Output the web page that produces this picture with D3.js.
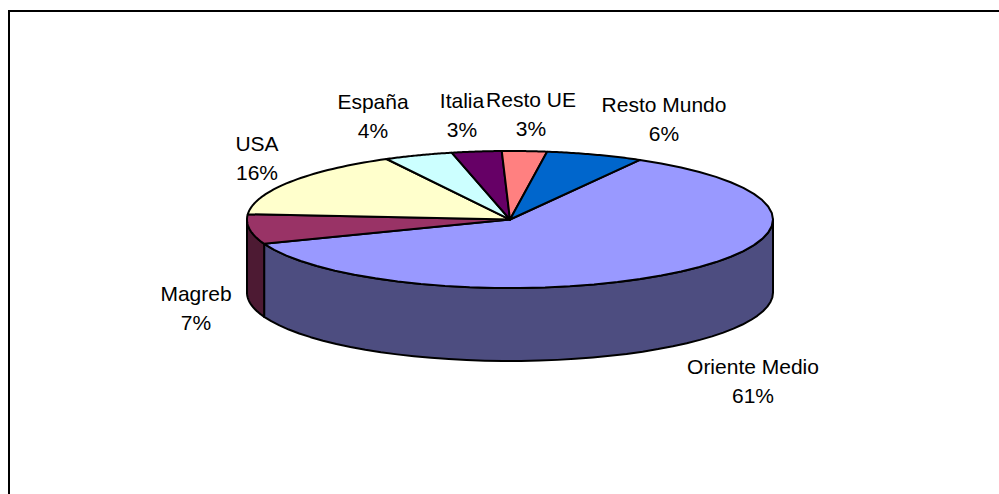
<!DOCTYPE html>
<html><head><meta charset="utf-8">
<script src="https://cdn.jsdelivr.net/npm/d3@7/dist/d3.min.js"></script>
<style>html,body{margin:0;padding:0;background:#fff}svg{display:block}</style></head>
<body><svg id="c" width="999" height="494"></svg>
<script>
const categories = ["Oriente Medio","Magreb","USA","España","Italia","Resto UE","Resto Mundo"];
const values = [61,7,16,4.22,3.06,2.75,5.97];
const percentLabels = ["61%","7%","16%","4%","3%","3%","6%"];
const topColors = ["#9999FF","#993366","#FFFFCC","#CCFFFF","#660066","#FF8080","#0066CC"];
const sideColors = ["#4D4D80","#4D1A33","#808066","#668080","#330033","#804040","#003366"];
const labelAnchors = [[753,366],[196,293],[257,143],[373,101],[462,100],[531,99],[664,104]];

const W=999,H=494,cx=510,cy=219.5,rx=263,ry=68.5,depth=73;
const svg=d3.select("#c");
svg.append("rect").attr("x",9).attr("y",11).attr("width",W).attr("height",H).attr("fill","#fff").attr("stroke","#000").attr("stroke-width",2);

const startDeg=29.6;
const pie=d3.pie().sort(null).value(d=>d).startAngle(startDeg*Math.PI/180).endAngle((startDeg+360)*Math.PI/180);
const arcs=pie(values);
const x=d3.scaleLinear().domain([-1,1]).range([cx-rx,cx+rx]);
const y=d3.scaleLinear().domain([-1,1]).range([cy-ry,cy+ry]);
const pt=(a,dz=0)=>[x(Math.sin(a)),y(-Math.cos(a))+dz];
const line=d3.line();
const sample=(a0,a1,dz)=>d3.range(0,41).map(i=>pt(a0+(a1-a0)*i/40,dz));

const visLo=Math.PI/2,visHi=3*Math.PI/2;
arcs.forEach((d,i)=>{
  const a0=Math.max(d.startAngle,visLo),a1=Math.min(d.endAngle,visHi);
  if(a1<=a0) return;
  const p=[...sample(a0,a1,0),...sample(a1,a0,depth)];
  svg.append("path").attr("d",line(p)+"Z").attr("fill",sideColors[i]).attr("stroke","#000").attr("stroke-width",2).attr("stroke-linejoin","round");
});
arcs.forEach((d,i)=>{
  const p=[[x(0),y(0)],...sample(d.startAngle,d.endAngle,0)];
  svg.append("path").attr("d",line(p)+"Z").attr("fill",topColors[i]).attr("stroke","#000").attr("stroke-width",2).attr("stroke-linejoin","round");
});
categories.forEach((c,i)=>{
  const [lx,ly]=labelAnchors[i];
  const t=svg.append("text").attr("text-anchor","middle").attr("font-family","'Liberation Sans',Arial,sans-serif").attr("font-size",21).attr("fill","#000");
  t.append("tspan").attr("x",lx).attr("y",ly+7.5).text(c);
  t.append("tspan").attr("x",lx).attr("y",ly+36.5).text(percentLabels[i]);
});
</script></body></html>
